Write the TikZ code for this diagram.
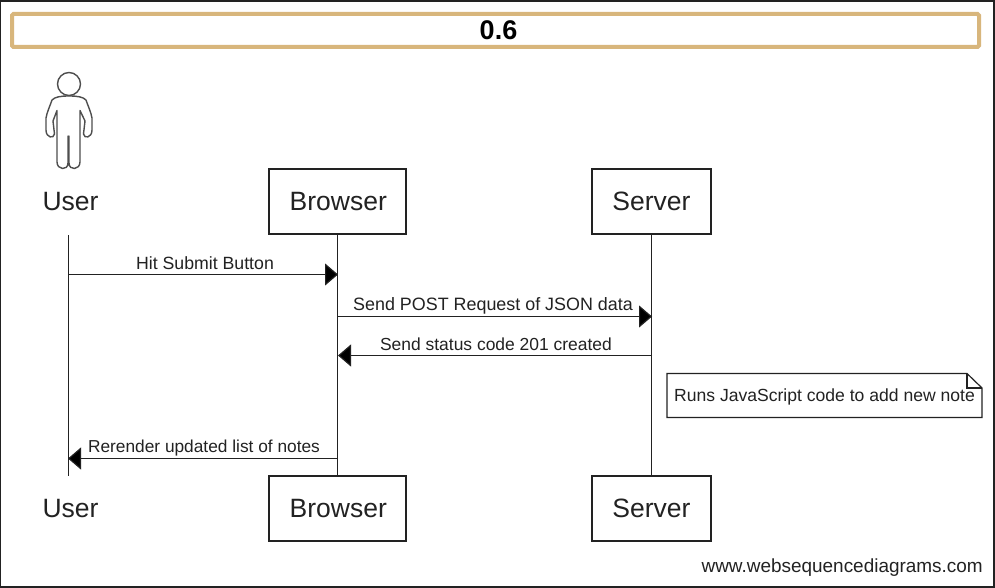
\documentclass[tikz,border=0pt]{standalone}
\usepackage{fontspec}
\setmainfont{Liberation Sans}
\usetikzlibrary{arrows.meta,calc}
\definecolor{ink}{HTML}{222222}
\definecolor{tan}{HTML}{D8B67C}
\tikzset{
  x=1pt,y=-1pt,
  lifeline/.style={draw=ink,line width=1.2pt},
  actorbox/.style={draw=ink,line width=1.2pt,fill=white,minimum height=65pt,inner sep=0pt,font=\fontsize{26.5}{30}\selectfont,text=ink,anchor=center},
  actorlabel/.style={font=\fontsize{26.5}{30}\selectfont,text=ink,inner sep=0pt,anchor=base},
  msg/.style={draw=ink,line width=1.2pt,-{Triangle[length=13pt,width=22pt,fill=black]}},
  msgtext/.style={font=\fontsize{#1}{20}\selectfont,text=ink,inner sep=0pt,anchor=base},
  figure/.style={draw=ink!80,line width=1.4pt,line join=round,line cap=round},
}
\begin{document}
\begin{tikzpicture}
\useasboundingbox (0,0) rectangle (995,588);
\fill[white] (0,0) rectangle (995,588);
\draw[ink,line width=1.6pt] (0.6,1) -- (994,1) -- (994,587) -- (0.6,587) -- cycle;
% title
\node[draw=tan,line width=4pt,rounded corners=1.5pt,minimum width=967pt,minimum height=33pt,inner sep=0pt,text=black] (title) at (495.5,30.5) {};
\node[font=\bfseries\fontsize{27}{30}\selectfont,text=black,inner sep=0pt] (titletext) at (498.5,30.5) {0.6};
% actor figure
\draw[figure] (69,84) circle (11.5);
\draw[figure] (69,96) .. controls (60,96) and (55,97) .. (52,100)
  .. controls (50,106) and (47,112) .. (46,118)
  -- (46,130) .. controls (46,138) and (54,139) .. (54.5,134)
  -- (53,121) -- (57,110.5)
  -- (57,162) .. controls (57,170) and (68,171) .. (68,163) -- (68,136)
  (69,96) .. controls (78,96) and (83,97) .. (86,100)
  .. controls (88,106) and (91,112) .. (92,118)
  -- (92,130) .. controls (92,138) and (84,139) .. (83.5,134)
  -- (85,121) -- (80,110.5)
  -- (80,162) .. controls (80,170) and (69,171) .. (69,163) -- (69,136);
% participants
\node[actorlabel] (usertop) at (70.5,211) {User};
\node[actorbox,minimum width=137pt] (browsertop) at (337.5,201.5) {\hspace{1.5pt}Browser};
\node[actorbox,minimum width=119pt] (servertop) at (651.5,201.5) {Server};
\node[actorlabel] (userbot) at (70.5,517) {User};
\node[actorbox,minimum width=137pt] (browserbot) at (337.5,508.5) {\hspace{1.5pt}Browser};
\node[actorbox,minimum width=119pt] (serverbot) at (651.5,508.5) {Server};
% lifelines
\coordinate (utop) at (68.3,235);
\coordinate (ubot) at (68.3,476);
\draw[lifeline] (utop) -- (ubot);
\draw[lifeline] (browsertop.south) -- (browserbot.north);
\draw[lifeline] (servertop.south) -- (serverbot.north);
% message anchors
\coordinate (u1) at (68,274.5);
\coordinate (b1) at (338,274.5);
\coordinate (b2) at (338,316.5);
\coordinate (s2) at (652,316.5);
\coordinate (s3) at (652,355.5);
\coordinate (b3) at (338,355.5);
\coordinate (b4) at (338,458.5);
\coordinate (u4) at (68,458.5);
\draw[msg] (u1) -- (b1);
\draw[msg] (b2) -- (s2);
\draw[msg] (s3) -- (b3);
\draw[msg] (b4) -- (u4);
\node[msgtext=17.7] (m1) at (205,269.5) {Hit Submit Button};
\node[msgtext=17.9] (m2) at (493,310.5) {Send POST Request of JSON data};
\node[msgtext=17.45] (m3) at (496,350.5) {Send status code 201 created};
\node[msgtext=17.3] (m4) at (204,452.5) {Rerender updated list of notes};
% note
\draw[draw=ink,line width=1.2pt,fill=white] (667,373.5) -- (967,373.5) -- (982,388) -- (982,417.5) -- (667,417.5) -- cycle;
\draw[draw=ink,line width=1.2pt] (967,373.5) -- (967,388) -- (982,388);
\node[msgtext=17.56] (note) at (824.5,401.5) {Runs JavaScript code to add new note};
% footer
\node[font=\fontsize{18.95}{22}\selectfont,text=ink,inner sep=0pt,anchor=base east] (credit) at (983,572.5) {www.websequencediagrams.com};
\end{tikzpicture}
\end{document}
